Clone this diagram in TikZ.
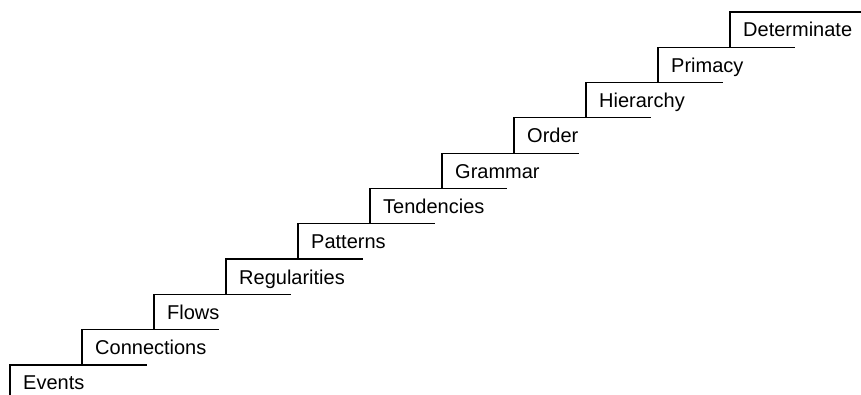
\documentclass[tikz,border=0pt]{standalone}
\usepackage{fontspec}
\setmainfont{Liberation Sans}
\tikzset{
  steplabel/.style={inner sep=0pt, font=\fontsize{20}{24}\selectfont},
  stepline/.style={line width=1.2pt, line cap=rect}
}
\begin{document}
\begin{tikzpicture}[x=1pt, y=1pt]   % a staircase of steps
  \useasboundingbox (0,0) rectangle (861,395);
  \coordinate (floor) at (0,0);
  \foreach \lbl [count=\i from 0] in {Events,Connections,Flows,Regularities,Patterns,
      Tendencies,Grammar,Order,Hierarchy,Primacy,Determinate}{
    \coordinate (s\i) at ({10+72*\i},{30+35.3*\i});
    \node[steplabel, anchor=base west] (t\i) at ([xshift=13pt, yshift=-25pt]s\i) {\lbl};
    \draw[stepline] (s\i) -- ++(136,0);
  }
  % risers between the steps
  \draw[stepline] (s0) -- (s0 |- floor);
  \foreach \i [remember=\i as \j (initially 0)] in {1,...,10}
    \draw[stepline] (s\i) -- (s\i |- s\j);
\end{tikzpicture}
\end{document}
